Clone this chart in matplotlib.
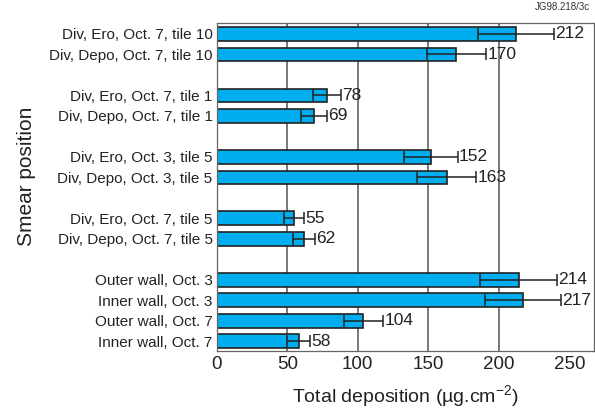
import numpy as np
import matplotlib.pyplot as plt

plt.rcParams['font.family'] = ['Liberation Sans', 'DejaVu Sans']
plt.rcParams['mathtext.fontset'] = 'custom'
plt.rcParams['mathtext.rm'] = 'Liberation Sans'
plt.rcParams['mathtext.default'] = 'rm'

labels = ["Div, Ero, Oct. 7, tile 10", "Div, Depo, Oct. 7, tile 10",
          "Div, Ero, Oct. 7, tile 1", "Div, Depo, Oct. 7, tile 1",
          "Div, Ero, Oct. 3, tile 5", "Div, Depo, Oct. 3, tile 5",
          "Div, Ero, Oct. 7, tile 5", "Div, Depo, Oct. 7, tile 5",
          "Outer wall, Oct. 3", "Inner wall, Oct. 3",
          "Outer wall, Oct. 7", "Inner wall, Oct. 7"]
values = [212, 170, 78, 69, 152, 163, 55, 62, 214, 217, 104, 58]
errors = [27, 21, 10, 9, 19, 21, 7, 8, 27, 27, 14, 8]
# slot index of each bar, empty slot between groups
slots = [0, 1, 3, 4, 6, 7, 9, 10, 12, 13, 14, 15]
xticks = [0, 50, 100, 150, 200, 250]

fig = plt.figure(figsize=(5.95, 4.11), dpi=100)
ax = fig.add_axes([0.3642, 0.1467, 0.9983 - 0.3642, 0.9433 - 0.1467])

for g in [50, 100, 150, 200]:
    ax.axvline(g, color='#555555', lw=1.1, zorder=0)

ax.barh(slots, values, height=0.67, color='#00aeef', edgecolor='#222222',
        linewidth=1.2, zorder=2)
ax.errorbar(values, slots, xerr=errors, fmt='none', ecolor='#222222',
            elinewidth=1.1, capsize=4.5, capthick=1.1, zorder=3)
for y, v, e in zip(slots, values, errors):
    ax.text(v + e + 0.8, y, str(v), va='center', ha='left', fontsize=12.5,
            color='#222222')

ax.set_xlim(0, 267.5)
ax.set_ylim(15.46, -0.52)
ax.set_yticks(slots)
ax.set_yticklabels(labels, fontsize=11, color='#222222')
ax.set_xticks(xticks)
ax.set_xticklabels([str(t) for t in xticks], fontsize=13.5, color='#222222')
ax.tick_params(length=0, pad=3)
ax.tick_params(axis='x', pad=4)
for s in ax.spines.values():
    s.set_color('#666666')
    s.set_linewidth(0.9)

ax.set_xlabel('Total deposition (\u00b5g.cm$^{\u22122}$)', fontsize=14,
              color='#222222', labelpad=7)
fig.text(0.045, 0.5706, 'Smear position', rotation=90, fontsize=15,
         color='#222222', ha='center', va='center')
fig.text(0.992, 0.995, 'JG98.218/3c', fontsize=7, color='#333333',
         ha='right', va='top')

plt.savefig('out.png')
